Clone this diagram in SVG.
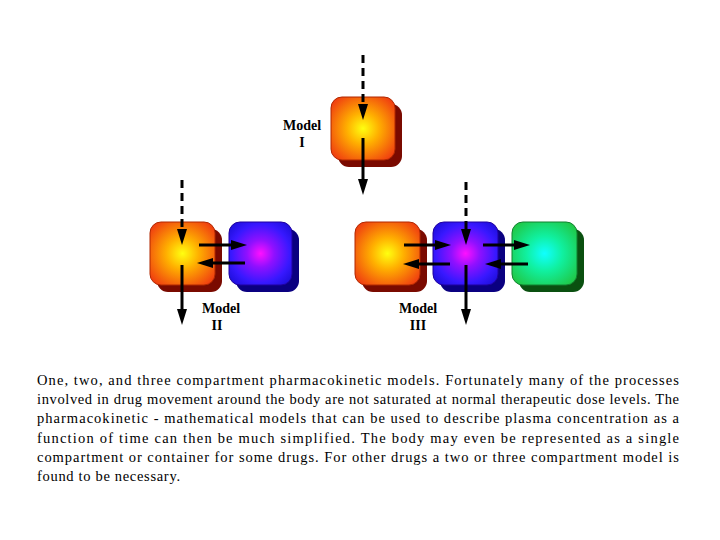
<svg xmlns="http://www.w3.org/2000/svg" width="720" height="540" viewBox="0 0 720 540">
<defs>
<radialGradient id="gOrange" cx="50%" cy="50%" r="62%">
<stop offset="0" stop-color="#ffff10"/>
<stop offset="0.4" stop-color="#ffb000"/>
<stop offset="1" stop-color="#f04010"/>
</radialGradient>
<radialGradient id="gBlue" cx="50%" cy="50%" r="62%">
<stop offset="0" stop-color="#ff10ff"/>
<stop offset="0.35" stop-color="#9010ff"/>
<stop offset="0.75" stop-color="#3818ff"/>
<stop offset="1" stop-color="#2010e0"/>
</radialGradient>
<radialGradient id="gGreen" cx="50%" cy="50%" r="62%">
<stop offset="0" stop-color="#10ffff"/>
<stop offset="0.45" stop-color="#10f0a0"/>
<stop offset="1" stop-color="#20c848"/>
</radialGradient>
<marker id="ah" viewBox="0 0 16 10" refX="8" refY="5" markerWidth="16" markerHeight="10" markerUnits="userSpaceOnUse" orient="auto">
<path d="M0,0 L16,5 L0,10 z" fill="#000"/>
</marker>
<style>
.sh-o{fill:#7a0a00}
.sh-b{fill:#0a0080}
.sh-g{fill:#0a5010}
.f-o{fill:url(#gOrange);stroke:#b02800;stroke-width:1}
.f-b{fill:url(#gBlue);stroke:#2000a0;stroke-width:1}
.f-g{fill:url(#gGreen);stroke:#108030;stroke-width:1}
.ar{stroke:#000;stroke-width:3;fill:none;marker-end:url(#ah)}
.dash{stroke-dasharray:8 5}
.lbl{font-family:"Liberation Serif",serif;font-weight:bold;font-size:14px;fill:#000;text-anchor:middle}
.body{font-family:"Liberation Serif",serif;font-size:14.5px;fill:#000}
</style>
</defs>
<rect width="720" height="540" fill="#fff"/>

<g id="model1-central">
<rect class="sh-o" x="338" y="104" width="64" height="63" rx="11"/>
<rect class="f-o" x="331" y="97" width="64" height="63" rx="11"/>
</g>
<g id="model1-label">
<text class="lbl" x="302" y="130">Model</text>
<text class="lbl" x="302" y="147">I</text>
</g>

<g id="model2-central">
<rect class="sh-o" x="157" y="229" width="65" height="63" rx="11"/>
<rect class="f-o" x="150" y="222" width="65" height="63" rx="11"/>
</g>
<g id="model2-peripheral">
<rect class="sh-b" x="236" y="229" width="63" height="63" rx="11"/>
<rect class="f-b" x="229" y="222" width="63" height="63" rx="11"/>
</g>
<g id="model2-label">
<text class="lbl" x="221" y="313">Model</text>
<text class="lbl" x="217" y="330">II</text>
</g>

<g id="model3-peripheral1">
<rect class="sh-o" x="362" y="229" width="65" height="63" rx="11"/>
<rect class="f-o" x="355" y="222" width="65" height="63" rx="11"/>
</g>
<g id="model3-central">
<rect class="sh-b" x="440" y="229" width="65" height="63" rx="11"/>
<rect class="f-b" x="433" y="222" width="65" height="63" rx="11"/>
</g>
<g id="model3-peripheral2">
<rect class="sh-g" x="519" y="229" width="65" height="63" rx="11"/>
<rect class="f-g" x="512" y="222" width="65" height="63" rx="11"/>
</g>
<g id="model3-label">
<text class="lbl" x="418" y="313">Model</text>
<text class="lbl" x="418" y="330">III</text>
</g>

<g id="connectors">
<line class="ar dash" x1="363" y1="55" x2="363" y2="112"/>
<line class="ar" x1="363" y1="138" x2="363" y2="187"/>

<line class="ar dash" x1="182" y1="180" x2="182" y2="237"/>
<line class="ar" x1="182" y1="265" x2="182" y2="317"/>
<line class="ar" x1="199" y1="245" x2="239" y2="245"/>
<line class="ar" x1="245" y1="263" x2="205" y2="263"/>

<line class="ar dash" x1="466" y1="182" x2="466" y2="237"/>
<line class="ar" x1="466" y1="265" x2="466" y2="317"/>
<line class="ar" x1="404" y1="245" x2="443" y2="245"/>
<line class="ar" x1="450" y1="264" x2="411" y2="264"/>
<line class="ar" x1="483" y1="245" x2="522" y2="245"/>
<line class="ar" x1="528" y1="264" x2="493" y2="264"/>
</g>

<g id="caption">
<text class="body" x="37" y="385" textLength="642" lengthAdjust="spacing">One, two, and three compartment pharmacokinetic models. Fortunately many of the processes</text>
<text class="body" x="37" y="404" textLength="642" lengthAdjust="spacing">involved in drug movement around the body are not saturated at normal therapeutic dose levels. The</text>
<text class="body" x="37" y="423" textLength="642" lengthAdjust="spacing">pharmacokinetic - mathematical models that can be used to describe plasma concentration as a</text>
<text class="body" x="37" y="443" textLength="642" lengthAdjust="spacing">function of time can then be much simplified. The body may even be represented as a single</text>
<text class="body" x="37" y="462" textLength="642" lengthAdjust="spacing">compartment or container for some drugs. For other drugs a two or three compartment model is</text>
<text class="body" x="37" y="481" textLength="143" lengthAdjust="spacing">found to be necessary.</text>
</g>
</svg>
